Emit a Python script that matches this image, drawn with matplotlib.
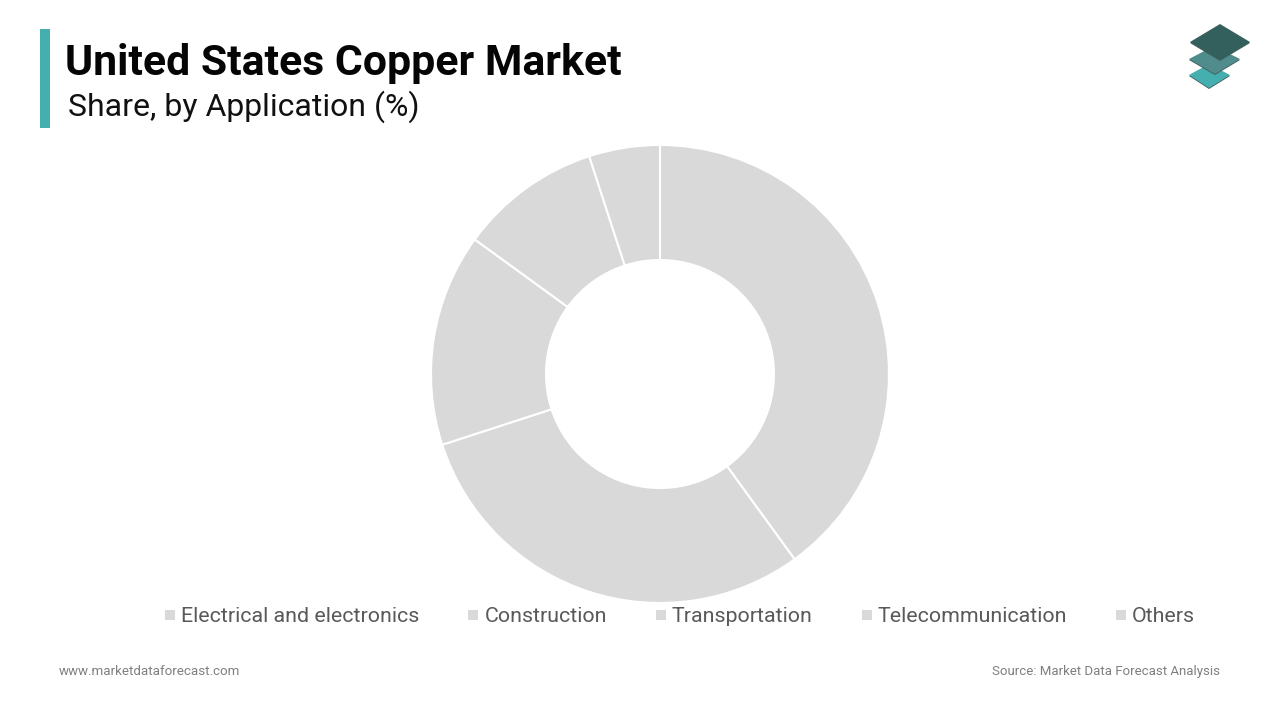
"""United States copper market share by application, donut chart."""

import matplotlib
matplotlib.use("Agg")
import matplotlib.pyplot as plt
from matplotlib.patches import Polygon, Rectangle

plt.rcParams["font.family"] = ["Roboto", "DejaVu Sans"]

# --- Data ---
categories = ["Electrical and electronics", "Construction", "Transportation",
              "Telecommunication", "Others"]
shares = [40, 30, 15, 10, 5]

title = "United States Copper Market"
subtitle = "Share, by Application (%)"
site = "www.marketdataforecast.com"
source = "Source: Market Data Forecast Analysis"

GREY = "#d9d9d9"
TEAL = "#45aeae"

# whole figure is one axes in pixel units, y measured up from the bottom
fig = plt.figure(figsize=(12.8, 7.2), dpi=100)
ax = fig.add_axes([0, 0, 1, 1])


def py(y):
    return 720 - y


wedges, _ = ax.pie(shares, colors=[GREY] * len(shares), startangle=90, counterclock=False,
                   center=(660, py(374)), radius=229,
                   wedgeprops=dict(width=115, edgecolor="white", linewidth=1.5))
ax.set_xlim(0, 1280)
ax.set_ylim(0, 720)
ax.set_aspect("equal")
ax.axis("off")

# --- Header ---
ax.add_patch(Rectangle((40, py(128)), 10, 99, color=TEAL, lw=0))
ax.text(65, py(75), title, fontsize=30.75, fontweight="bold", color="#050505", va="baseline")
ax.text(68, py(116), subtitle, fontsize=23.0, color="#111111", va="baseline")

# --- Logo, each layer with a thin dark underside ---
layers = [
    ([(1189, 75), (1209, 64), (1230, 75), (1209, 88)], TEAL),
    ([(1189, 59), (1214, 46), (1240, 59), (1215, 74)], "#4f8c8b"),
    ([(1190, 42), (1220, 24), (1250, 42), (1220, 60)], "#33605d"),
]
for pts, col in layers:
    ax.add_patch(Polygon([(x, py(y + 1)) for x, y in pts], color="#3f5f5d", lw=0))
    ax.add_patch(Polygon([(x, py(y)) for x, y in pts], color=col, lw=0))

# --- Legend, laid out along one baseline ---
renderer = fig.canvas.get_renderer()
x = 165
for wedge, label in zip(wedges, categories):
    ax.add_patch(Rectangle((x, py(620)), 10, 10, color=wedge.get_facecolor(), lw=0))
    t = ax.text(x + 16, py(622), label, fontsize=15.4, color="#595959", va="baseline")
    x += 16 + t.get_window_extent(renderer).width + 49

# --- Footer ---
ax.text(59, py(675), site, fontsize=9.6, color="#7f7f7f", va="baseline")
ax.text(1220, py(675), source, fontsize=9.55, color="#7f7f7f", va="baseline", ha="right")

fig.savefig("out.png", dpi=100)
